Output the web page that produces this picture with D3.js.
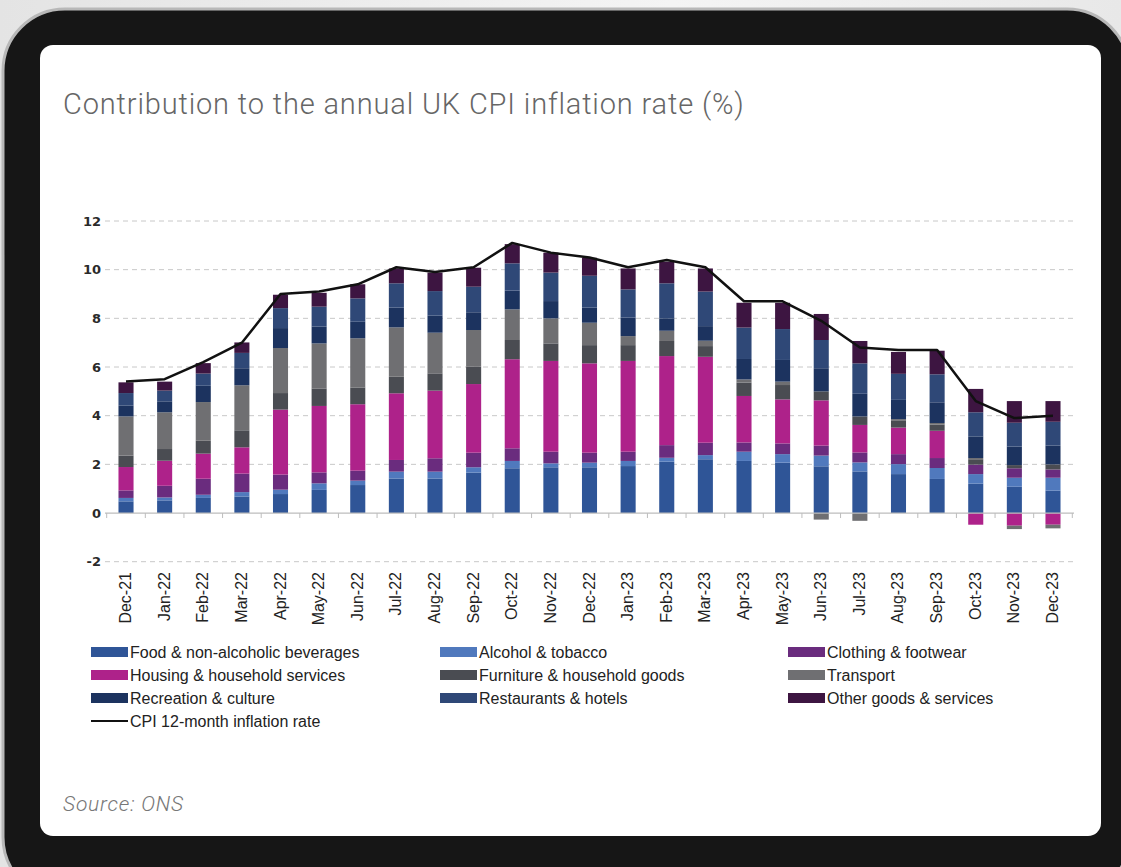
<!DOCTYPE html>
<html>
<head>
<meta charset="utf-8">
<script src="https://cdn.jsdelivr.net/npm/d3@7"></script>
<style>
  body { margin: 0; background: #fff; }
  svg { display: block; }
</style>
</head>
<body>
<svg id="chart" width="1121" height="867"></svg>
<script>
// Months on the x axis
const months = ["Dec-21","Jan-22","Feb-22","Mar-22","Apr-22","May-22","Jun-22","Jul-22","Aug-22","Sep-22","Oct-22","Nov-22","Dec-22","Jan-23","Feb-23","Mar-23","Apr-23","May-23","Jun-23","Jul-23","Aug-23","Sep-23","Oct-23","Nov-23","Dec-23"];

// Contributions (percentage points) by division
const food        = [0.48,0.52,0.62,0.68,0.78,0.95,1.15,1.42,1.42,1.66,1.84,1.88,1.88,1.93,2.11,2.21,2.14,2.07,1.92,1.71,1.60,1.40,1.21,1.08,0.92];
const alcohol     = [0.14,0.12,0.13,0.18,0.18,0.27,0.18,0.28,0.28,0.22,0.30,0.16,0.19,0.21,0.16,0.17,0.38,0.35,0.44,0.37,0.41,0.45,0.39,0.37,0.53];
const clothing    = [0.31,0.48,0.66,0.76,0.62,0.45,0.41,0.48,0.55,0.60,0.52,0.48,0.41,0.38,0.52,0.51,0.38,0.44,0.41,0.41,0.41,0.41,0.39,0.39,0.34];
const housing     = [0.96,1.03,1.03,1.08,2.67,2.73,2.73,2.74,2.78,2.82,3.66,3.73,3.67,3.73,3.66,3.53,1.91,1.81,1.86,1.13,1.09,1.12,-0.48,-0.52,-0.48];
const furniture   = [0.47,0.48,0.53,0.70,0.68,0.72,0.69,0.68,0.71,0.71,0.79,0.72,0.75,0.65,0.62,0.44,0.55,0.59,0.37,0.35,0.30,0.25,0.22,0.13,0.21];
const transport   = [1.61,1.51,1.59,1.85,1.85,1.85,2.02,2.03,1.67,1.51,1.26,1.03,0.92,0.37,0.42,0.22,0.13,0.14,-0.27,-0.32,0.05,0.07,0.05,-0.14,-0.15];
const recreation  = [0.44,0.45,0.67,0.70,0.82,0.69,0.68,0.81,0.70,0.73,0.77,0.71,0.62,0.76,0.51,0.60,0.84,0.89,0.95,0.93,0.79,0.85,0.89,0.76,0.77];
const restaurants = [0.52,0.44,0.50,0.63,0.82,0.82,0.96,1.00,1.01,1.05,1.12,1.17,1.31,1.16,1.44,1.42,1.29,1.27,1.16,1.25,1.07,1.15,0.99,0.98,0.98];
const other       = [0.44,0.37,0.43,0.43,0.55,0.57,0.58,0.61,0.76,0.78,0.79,0.82,0.74,0.86,0.89,0.95,1.02,1.08,1.07,0.92,0.90,0.97,0.96,0.89,0.85];

// CPI 12-month inflation rate (%)
const cpi = [5.4,5.5,6.2,7.0,9.0,9.1,9.4,10.1,9.9,10.1,11.1,10.7,10.5,10.1,10.4,10.1,8.7,8.7,7.9,6.8,6.7,6.7,4.6,3.9,4.0];

const seriesNames = ["Food & non-alcoholic beverages","Alcohol & tobacco","Clothing & footwear","Housing & household services","Furniture & household goods","Transport","Recreation & culture","Restaurants & hotels","Other goods & services"];
const seriesValues = [food, alcohol, clothing, housing, furniture, transport, recreation, restaurants, other];
const seriesColors = ["#2f5597","#5079bd","#6a2c7e","#ae228a","#4a4c52","#6f6f72","#1c335f","#2f4877","#3d1541"];
const lineName = "CPI 12-month inflation rate";

const yTicks = [-2,0,2,4,6,8,10,12];

const svg = d3.select("#chart");
const W = 1121, H = 867;

// ---- device frame ----
const defs = svg.append("defs");
const bg = defs.append("linearGradient").attr("id","bg").attr("x1",0).attr("y1",0).attr("x2",1).attr("y2",0);
bg.append("stop").attr("offset","0%").attr("stop-color","#e4e4e4");
bg.append("stop").attr("offset","60%").attr("stop-color","#f4f4f4");
bg.append("stop").attr("offset","100%").attr("stop-color","#e8e8e8");
svg.append("rect").attr("width",W).attr("height",H).attr("fill","url(#bg)");
svg.append("rect")
  .attr("x",3).attr("y",9).attr("width",1126).attr("height",890).attr("rx",62)
  .attr("fill","#161616").attr("stroke","#b8b8b8").attr("stroke-width",3);
svg.append("rect")
  .attr("x",40).attr("y",45).attr("width",1061).attr("height",791).attr("rx",13)
  .attr("fill","#ffffff");

// ---- title & source ----
svg.append("text")
  .attr("x",63).attr("y",114)
  .attr("font-family","Roboto, 'Open Sans', sans-serif")
  .attr("font-weight",300).attr("font-size",29).attr("letter-spacing",0.85)
  .attr("fill","#666")
  .text("Contribution to the annual UK CPI inflation rate (%)");

svg.append("text")
  .attr("x",63).attr("y",811)
  .attr("font-family","Roboto, 'Open Sans', sans-serif")
  .attr("font-weight",300).attr("font-style","italic").attr("font-size",21).attr("letter-spacing",0.8)
  .attr("fill","#777")
  .text("Source: ONS");

// ---- scales ----
const x = d3.scaleBand().domain(months).range([106.7, 1072.3]).paddingInner(0.61).paddingOuter(0.305);
const y = d3.scaleLinear().domain([-2, 12]).range([561.7, 221]);
const gridX0 = 105, gridX1 = 1074;

// dashed gridlines
const g = svg.append("g");
g.selectAll("line.grid").data(yTicks.filter(t => t !== 0)).join("line")
  .attr("x1",gridX0).attr("x2",gridX1)
  .attr("y1",d => y(d)).attr("y2",d => y(d))
  .attr("stroke","#c8c8c8").attr("stroke-width",1).attr("stroke-dasharray","5,4");

// y tick labels
g.selectAll("text.ytick").data(yTicks).join("text")
  .attr("x",101).attr("y",d => y(d)).attr("dy","0.35em")
  .attr("text-anchor","end")
  .attr("font-family","'DejaVu Sans', sans-serif").attr("font-size",13).attr("font-weight","bold")
  .attr("fill","#2a2a2a")
  .text(d => d);

// ---- stacked bars ----
const table = months.map((m,i) => {
  const row = { month: m };
  seriesNames.forEach((s,k) => row[s] = seriesValues[k][i]);
  return row;
});
const stacked = d3.stack().keys(seriesNames).offset(d3.stackOffsetDiverging)(table);

g.selectAll("g.series").data(stacked).join("g")
  .attr("fill",(d,k) => seriesColors[k])
  .selectAll("rect").data(d => d).join("rect")
    .attr("x",d => x(d.data.month))
    .attr("width",x.bandwidth())
    .attr("y",d => y(Math.max(d[0],d[1])))
    .attr("height",d => Math.abs(y(d[0]) - y(d[1])));

// zero line with category ticks
g.append("line")
  .attr("x1",gridX0).attr("x2",gridX1).attr("y1",y(0)).attr("y2",y(0))
  .attr("stroke","#bdbdbd").attr("stroke-width",1.2);
const bounds = [x(months[0]) - (x.step()-x.bandwidth())/2, ...months.map(m => x(m) + x.bandwidth() + (x.step()-x.bandwidth())/2)];
g.selectAll("line.ctick").data(bounds).join("line")
  .attr("x1",d => d).attr("x2",d => d).attr("y1",y(0)).attr("y2",y(0)+5)
  .attr("stroke","#bdbdbd").attr("stroke-width",1);

// CPI line
const line = d3.line()
  .x((d,i) => x(months[i]) + x.bandwidth()/2)
  .y(d => y(d));
g.append("path").datum(cpi)
  .attr("d",line).attr("fill","none")
  .attr("stroke","#111").attr("stroke-width",2.5).attr("stroke-linejoin","round");

// x labels (rotated)
g.selectAll("text.xlab").data(months).join("text")
  .attr("transform",d => `translate(${x(d) + x.bandwidth()/2 + 5},572) rotate(-90)`)
  .attr("text-anchor","end")
  .attr("font-family","'Liberation Sans Narrow', 'Liberation Sans', Arial, sans-serif")
  .attr("font-size",16)
  .attr("fill","#222")
  .text(d => d);

// ---- legend ----
const legendCols = [91, 440, 788];
const legendRows = [652, 675, 698, 721];
const legendItems = seriesNames.map((s,k) => ({ name: s, color: seriesColors[k], type: "box" }));
legendItems.push({ name: lineName, color: "#111", type: "line" });
const lg = svg.append("g").attr("font-family","'Liberation Sans Narrow', 'Liberation Sans', Arial, sans-serif").attr("font-size",16).attr("fill","#222");
legendItems.forEach((it,i) => {
  const cx = legendCols[i % 3], cy = legendRows[Math.floor(i / 3)];
  if (it.type === "box") {
    lg.append("rect").attr("x",cx).attr("y",cy-5).attr("width",37).attr("height",10).attr("fill",it.color);
  } else {
    lg.append("line").attr("x1",cx).attr("x2",cx+37).attr("y1",cy).attr("y2",cy).attr("stroke",it.color).attr("stroke-width",2);
  }
  lg.append("text").attr("x",cx+39).attr("y",cy).attr("dy","0.35em").text(it.name);
});
</script>
</body>
</html>
